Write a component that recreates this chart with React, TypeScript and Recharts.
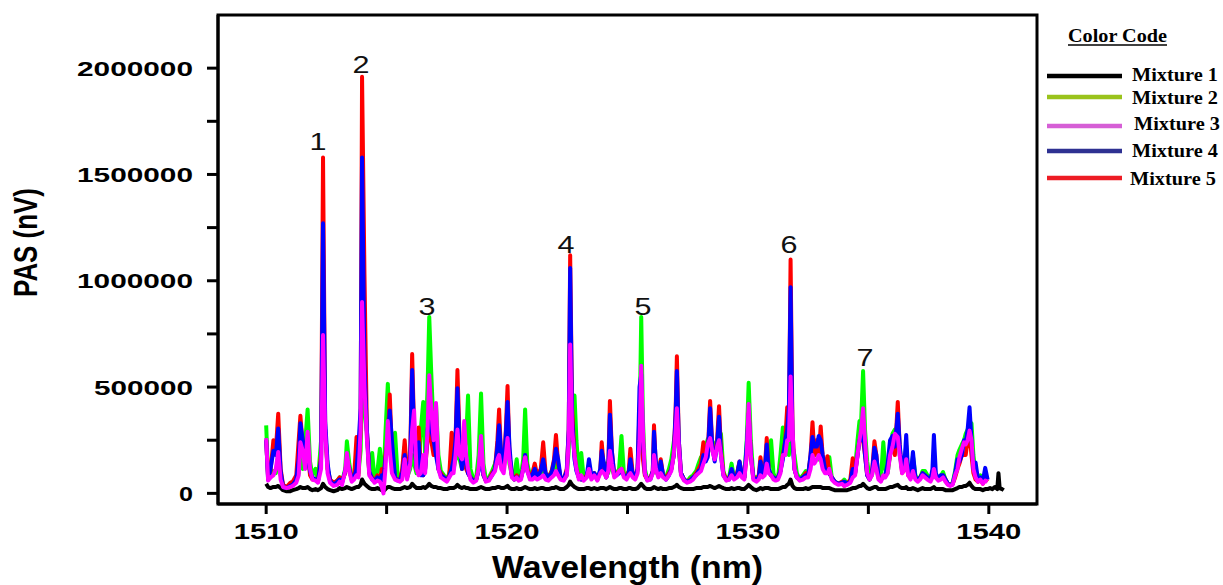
import { Line, LineChart, ReferenceArea, ReferenceDot, XAxis, YAxis } from 'recharts';

const SANS = '"Liberation Sans", Arial, sans-serif';
const SERIF = '"Liberation Serif", "Times New Roman", serif';

// one line per nm, every series array follows the same layout (values in thousands of nV)
const wavelength = [
  1510.0, 1510.08, 1510.18, 1510.3, 1510.4, 1510.5, 1510.6, 1510.7, 1510.85,
  1511.0, 1511.1, 1511.25, 1511.35, 1511.42, 1511.52, 1511.62, 1511.72, 1511.82, 1511.92,
  1512.05, 1512.15, 1512.28, 1512.36, 1512.45, 1512.55, 1512.65, 1512.8, 1512.95,
  1513.05, 1513.15, 1513.28, 1513.35, 1513.45, 1513.55, 1513.65, 1513.75, 1513.83, 1513.92, 1513.98,
  1514.08, 1514.18, 1514.28, 1514.4, 1514.5, 1514.62, 1514.72, 1514.8, 1514.87, 1514.95,
  1515.05, 1515.13, 1515.22, 1515.35, 1515.45, 1515.55, 1515.65, 1515.75, 1515.85, 1515.98,
  1516.06, 1516.14, 1516.24, 1516.33, 1516.42, 1516.52, 1516.6, 1516.7, 1516.77, 1516.85, 1516.95,
  1517.05, 1517.15, 1517.25, 1517.38, 1517.5, 1517.6, 1517.7, 1517.78, 1517.86, 1517.94,
  1518.03, 1518.13, 1518.22, 1518.3, 1518.38, 1518.48, 1518.6, 1518.72, 1518.82, 1518.92,
  1519.02, 1519.12, 1519.25, 1519.38, 1519.5, 1519.6, 1519.67, 1519.76, 1519.86, 1519.95,
  1520.02, 1520.1, 1520.2, 1520.3, 1520.4, 1520.48, 1520.58, 1520.67, 1520.75, 1520.84, 1520.95,
  1521.05, 1521.15, 1521.25, 1521.4, 1521.5, 1521.6, 1521.72, 1521.85, 1521.95,
  1522.03, 1522.12, 1522.22, 1522.35, 1522.48, 1522.56, 1522.62, 1522.7, 1522.8, 1522.88, 1522.98,
  1523.08, 1523.18, 1523.3, 1523.4, 1523.5, 1523.62, 1523.75, 1523.87, 1523.93,
  1524.02, 1524.12, 1524.2, 1524.27, 1524.35, 1524.45, 1524.55, 1524.65, 1524.75, 1524.85, 1524.96,
  1525.05, 1525.12, 1525.22, 1525.32, 1525.42, 1525.5, 1525.57, 1525.64, 1525.72, 1525.82, 1525.95,
  1526.05, 1526.1, 1526.18, 1526.28, 1526.38, 1526.48, 1526.6, 1526.72, 1526.82, 1526.92,
  1527.0, 1527.05, 1527.13, 1527.22, 1527.35, 1527.48, 1527.6, 1527.72, 1527.85, 1527.95,
  1528.05, 1528.15, 1528.25, 1528.33, 1528.43, 1528.52, 1528.62, 1528.72, 1528.8, 1528.88, 1528.98,
  1529.1, 1529.22, 1529.32, 1529.42, 1529.55, 1529.65, 1529.75, 1529.85, 1529.95,
  1530.03, 1530.12, 1530.22, 1530.35, 1530.45, 1530.52, 1530.6, 1530.7, 1530.78, 1530.86, 1530.96,
  1531.06, 1531.15, 1531.25, 1531.35, 1531.45, 1531.55, 1531.63, 1531.7, 1531.77, 1531.85, 1531.93,
  1532.03, 1532.15, 1532.28, 1532.4, 1532.5, 1532.6, 1532.68, 1532.76, 1532.86, 1532.94,
  1533.02, 1533.1, 1533.2, 1533.3, 1533.38, 1533.48, 1533.6, 1533.75, 1533.9,
  1534.0, 1534.12, 1534.25, 1534.35, 1534.45, 1534.55, 1534.63, 1534.7, 1534.78, 1534.86, 1534.95,
  1535.05, 1535.15, 1535.25, 1535.33, 1535.42, 1535.52, 1535.62, 1535.7, 1535.8, 1535.9,
  1536.0, 1536.1, 1536.22, 1536.3, 1536.4, 1536.52, 1536.57, 1536.65, 1536.75, 1536.85, 1536.95,
  1537.05, 1537.15, 1537.25, 1537.35, 1537.45, 1537.58, 1537.66, 1537.72, 1537.8, 1537.9,
  1538.0, 1538.1, 1538.2, 1538.3, 1538.4, 1538.5, 1538.6, 1538.7, 1538.78, 1538.88,
  1538.97, 1539.04, 1539.12, 1539.2, 1539.28, 1539.36, 1539.45, 1539.55, 1539.65, 1539.75, 1539.85, 1539.95,
  1540.05, 1540.15, 1540.25, 1540.35, 1540.4, 1540.45, 1540.55, 1540.62,
];

// Mixture 1 (black)
const mixture1 = [
  45, 30, 25, 30, 30, 35, 25, 15, 10,
  10, 15, 20, 25, 30, 25, 25, 30, 20, 15,
  20, 15, 25, 45, 30, 20, 15, 10, 15,
  25, 20, 25, 30, 25, 20, 25, 30, 30, 40, 65,
  45, 35, 25, 20, 20, 25, 20, 15, 10, 20,
  30, 30, 25, 20, 20, 20, 25, 30, 25, 30,
  45, 35, 25, 25, 25, 30, 25, 35, 45, 35, 30,
  30, 25, 25, 20, 20, 25, 25, 25, 30, 40,
  30, 25, 30, 25, 25, 20, 20, 20, 25, 30,
  25, 20, 20, 25, 25, 30, 30, 25, 25, 30,
  35, 25, 20, 20, 25, 20, 20, 25, 30, 25, 20,
  20, 25, 20, 25, 25, 20, 20, 25, 25,
  30, 25, 20, 20, 30, 40, 55, 40, 30, 25, 20,
  20, 20, 25, 25, 20, 25, 20, 25, 25,
  25, 20, 25, 30, 25, 20, 20, 25, 25, 20, 20,
  25, 25, 20, 20, 25, 35, 45, 35, 25, 20, 20,
  25, 30, 25, 20, 25, 20, 20, 25, 25, 30,
  35, 40, 30, 25, 20, 20, 20, 20, 25, 25,
  25, 30, 30, 30, 35, 30, 25, 30, 35, 30, 25,
  20, 20, 25, 20, 25, 25, 20, 20, 30,
  40, 30, 20, 15, 20, 25, 20, 25, 25, 25, 20,
  20, 20, 20, 25, 30, 30, 40, 45, 65, 35, 25,
  20, 20, 20, 25, 20, 25, 30, 30, 30, 30,
  30, 25, 25, 25, 25, 20, 15, 15, 15,
  15, 15, 20, 25, 25, 30, 35, 35, 45, 35, 25,
  20, 25, 30, 30, 20, 20, 20, 20, 25, 30,
  30, 35, 40, 30, 25, 25, 30, 20, 20, 25, 20,
  15, 20, 25, 20, 20, 20, 25, 30, 20, 20,
  20, 20, 15, 15, 15, 15, 20, 25, 30, 30,
  35, 35, 40, 50, 35, 25, 20, 20, 20, 15, 20, 20,
  25, 20, 30, 20, 95, 25, 20, 15,
];

// Mixture 2 (green)
const mixture2 = [
  320, 85, 75, 105, 95, 180, 85, 40, 25,
  40, 45, 75, 95, 200, 115, 240, 395, 150, 85,
  115, 60, 250, 300, 300, 115, 65, 45, 60,
  75, 55, 115, 245, 140, 75, 85, 115, 95, 200, 500,
  400, 280, 95, 190, 65, 105, 210, 95, 65, 280,
  515, 300, 150, 285, 95, 65, 105, 220, 75, 115,
  180, 140, 95, 115, 300, 430, 180, 500, 830, 575, 300,
  420, 180, 105, 85, 65, 95, 140, 115, 160, 180,
  160, 115, 180, 250, 460, 115, 65, 75, 180, 470,
  140, 65, 75, 105, 140, 180, 250, 150, 115, 220,
  300, 140, 85, 85, 160, 75, 85, 160, 395, 140, 85,
  85, 95, 75, 95, 115, 85, 75, 105, 115,
  150, 95, 75, 65, 85, 200, 350, 250, 460, 250, 85,
  190, 75, 85, 105, 75, 95, 75, 95, 115,
  105, 140, 95, 200, 115, 85, 95, 115, 270, 95, 85,
  105, 115, 85, 75, 105, 300, 830, 350, 115, 65, 75,
  95, 180, 105, 85, 115, 85, 75, 115, 160, 240,
  300, 350, 200, 95, 65, 55, 75, 85, 105, 140,
  170, 180, 220, 255, 250, 200, 230, 250, 280, 280, 105,
  65, 75, 140, 75, 95, 140, 85, 75, 250,
  520, 250, 85, 65, 85, 115, 95, 105, 160, 115, 250,
  95, 65, 75, 180, 310, 180, 250, 180, 300, 220, 180,
  95, 65, 85, 105, 95, 160, 250, 250, 180, 160,
  220, 140, 105, 140, 170, 75, 55, 45, 50,
  65, 45, 60, 85, 115, 250, 340, 340, 575, 300, 150,
  75, 85, 160, 115, 75, 65, 240, 115, 95, 180,
  280, 300, 300, 180, 115, 160, 225, 95, 75, 175, 85,
  65, 75, 105, 105, 85, 75, 95, 140, 85, 75,
  80, 100, 65, 45, 40, 50, 105, 180, 205, 230,
  250, 280, 300, 330, 330, 180, 95, 75, 85, 55, 75, 65,
  null, null, null, null, null, null, null, null,
];

// Mixture 3 (magenta)
const mixture3 = [
  260, 60, 75, 85, 115, 195, 65, 30, 25,
  30, 35, 50, 85, 240, 200, 115, 290, 115, 65,
  60, 50, 115, 745, 290, 95, 50, 35, 40,
  55, 40, 105, 190, 105, 55, 65, 85, 75, 300, 900,
  500, 260, 85, 65, 50, 60, 55, 30, 0, 115,
  340, 200, 95, 65, 60, 55, 65, 160, 65, 140,
  300, 390, 115, 85, 95, 180, 95, 300, 555, 400, 250,
  425, 115, 75, 65, 55, 75, 95, 95, 180, 300,
  180, 160, 340, 180, 115, 65, 50, 60, 115, 270,
  95, 55, 60, 85, 105, 160, 180, 115, 95, 180,
  260, 160, 75, 65, 75, 60, 65, 115, 170, 105, 65,
  65, 75, 65, 75, 85, 65, 60, 75, 85,
  105, 85, 65, 60, 85, 250, 700, 300, 180, 115, 65,
  85, 60, 75, 115, 65, 85, 60, 95, 105,
  95, 75, 105, 200, 140, 75, 85, 105, 115, 75, 65,
  85, 95, 75, 65, 95, 250, 600, 300, 95, 60, 65,
  95, 180, 115, 75, 95, 75, 65, 85, 105, 180,
  300, 400, 220, 85, 60, 50, 55, 65, 85, 95,
  105, 140, 170, 230, 260, 200, 160, 220, 250, 180, 85,
  60, 65, 85, 65, 75, 95, 75, 65, 180,
  420, 180, 65, 55, 65, 85, 75, 85, 140, 95, 85,
  65, 60, 65, 95, 180, 180, 250, 250, 550, 300, 115,
  75, 60, 65, 75, 75, 115, 180, 140, 160, 180,
  160, 115, 95, 95, 115, 65, 50, 40, 45,
  35, 40, 50, 75, 85, 180, 250, 300, 400, 250, 95,
  65, 85, 150, 115, 65, 55, 85, 75, 95, 180,
  220, 280, 265, 180, 95, 115, 160, 85, 65, 105, 65,
  55, 65, 85, 75, 65, 55, 75, 115, 75, 60,
  65, 75, 55, 40, 35, 40, 85, 115, 170, 210,
  240, 230, 250, 295, 250, 115, 75, 55, 65, 45, 60, 55,
  null, null, null, null, null, null, null, null,
];

// Mixture 4 (blue)
const mixture4 = [
  250, 65, 115, 200, 180, 305, 105, 30, 25,
  35, 40, 65, 160, 330, 250, 140, 170, 105, 75,
  65, 55, 160, 1270, 340, 140, 60, 40, 55,
  65, 50, 105, 150, 115, 65, 75, 115, 220, 400, 1580,
  600, 300, 105, 65, 60, 75, 60, 85, 60, 160,
  250, 390, 250, 75, 60, 60, 95, 180, 75, 160,
  580, 280, 115, 240, 85, 85, 115, 300, 350, 300, 250,
  180, 115, 85, 75, 60, 80, 115, 160, 250, 495,
  220, 115, 180, 160, 95, 75, 55, 65, 105, 180,
  85, 60, 65, 85, 115, 220, 320, 180, 115, 280,
  430, 220, 85, 65, 75, 65, 75, 115, 180, 105, 75,
  85, 115, 75, 105, 160, 95, 75, 95, 150,
  210, 160, 75, 65, 105, 300, 1060, 350, 160, 105, 75,
  65, 65, 75, 160, 85, 95, 65, 115, 200,
  140, 75, 115, 370, 200, 85, 85, 95, 105, 85, 75,
  95, 160, 85, 75, 115, 500, 560, 250, 95, 65, 65,
  105, 290, 140, 85, 150, 85, 65, 85, 115, 180,
  380, 575, 250, 95, 65, 55, 60, 75, 85, 105,
  115, 180, 150, 170, 400, 220, 150, 230, 360, 180, 85,
  65, 65, 115, 75, 85, 150, 85, 75, 230,
  375, 180, 75, 65, 75, 150, 95, 105, 230, 115, 85,
  75, 65, 75, 105, 160, 250, 300, 400, 970, 250, 115,
  75, 65, 75, 85, 85, 180, 265, 220, 220, 270,
  250, 180, 115, 105, 95, 75, 55, 45, 50,
  55, 45, 55, 115, 95, 180, 250, 250, 300, 180, 85,
  65, 95, 215, 180, 75, 65, 75, 85, 140, 250,
  270, 220, 375, 230, 105, 180, 275, 95, 75, 195, 75,
  65, 75, 95, 85, 75, 65, 115, 275, 95, 65,
  85, 85, 65, 45, 40, 45, 95, 160, 150, 180,
  250, 240, 300, 405, 250, 115, 145, 65, 75, 55, 120, 65,
  null, null, null, null, null, null, null, null,
];

// Mixture 5 (red)
const mixture5 = [
  250, 75, 105, 250, 200, 375, 115, 40, 30,
  50, 55, 85, 250, 365, 220, 160, 200, 85, 65,
  65, 55, 180, 1580, 300, 115, 65, 50, 60,
  75, 60, 95, 160, 115, 65, 75, 265, 85, 300, 1960,
  1030, 300, 95, 75, 60, 85, 60, 115, 65, 180,
  250, 465, 200, 75, 65, 60, 115, 250, 85, 180,
  655, 300, 115, 310, 95, 85, 115, 250, 300, 250, 180,
  250, 115, 95, 75, 65, 85, 285, 160, 250, 580,
  250, 115, 160, 115, 95, 75, 60, 65, 115, 180,
  85, 60, 65, 95, 115, 250, 395, 160, 115, 300,
  505, 180, 85, 65, 85, 65, 75, 115, 180, 115, 75,
  95, 140, 85, 115, 240, 95, 75, 105, 160,
  275, 140, 75, 65, 115, 300, 1120, 400, 180, 115, 75,
  65, 65, 85, 115, 75, 95, 65, 105, 240,
  115, 75, 115, 435, 200, 85, 95, 105, 115, 85, 75,
  105, 210, 85, 75, 115, 400, 300, 160, 85, 65, 75,
  105, 320, 115, 85, 160, 85, 75, 95, 115, 180,
  400, 645, 250, 95, 65, 55, 65, 75, 95, 115,
  140, 240, 160, 180, 435, 220, 160, 250, 410, 200, 95,
  65, 75, 105, 75, 95, 150, 85, 75, 180,
  380, 180, 75, 65, 85, 170, 95, 115, 260, 115, 85,
  75, 65, 75, 105, 180, 250, 405, 300, 1100, 300, 115,
  75, 65, 75, 95, 85, 180, 335, 180, 250, 180,
  315, 180, 115, 175, 95, 75, 55, 45, 55,
  35, 45, 65, 165, 95, 180, 250, 250, 250, 180, 85,
  65, 95, 245, 180, 75, 65, 75, 85, 115, 180,
  250, 180, 430, 220, 95, 115, 180, 85, 75, 105, 75,
  65, 75, 95, 85, 75, 65, 85, 115, 75, 65,
  75, 85, 65, 45, 40, 45, 75, 115, 140, 180,
  180, 180, 250, 280, 180, 95, 65, 55, 65, 45, 65, 55,
  null, null, null, null, null, null, null, null,
];

const xTicks = [1510, 1515, 1520, 1525, 1530, 1535, 1540];
const yTicks = [0, 250000, 500000, 750000, 1000000, 1250000, 1500000, 1750000, 2000000];

const peakNumbers = ['1', '2', '3', '4', '5', '6', '7'];
const peakLabelWl = [1512.15, 1513.94, 1516.68, 1522.45, 1525.64, 1531.7, 1534.86];
const peakLabelPas = [1657000, 2017000, 880000, 1172000, 880000, 1172000, 640000];

const legendNames = ['Mixture 1', 'Mixture 2', 'Mixture 3', 'Mixture 4', 'Mixture 5'];
const legendColors = ['#000000', '#9ac31c', '#d65fd6', '#2e3192', '#ed1c24'];

// drawing order: black at the back, magenta on top
const series = [
  { key: 'm1', values: mixture1, color: '#000000' },
  { key: 'm2', values: mixture2, color: '#00ff00' },
  { key: 'm5', values: mixture5, color: '#ff0000' },
  { key: 'm4', values: mixture4, color: '#0000ff' },
  { key: 'm3', values: mixture3, color: '#ff00ff' },
];

const data = wavelength.map((wl, i) => {
  const row: Record<string, number | null> = { wl };
  for (const s of series) {
    const v = s.values[i];
    row[s.key] = v == null ? null : v * 1000;
  }
  return row;
});

function digitsWidth(s: string) {
  return 17 * s.length - 3;
}

function YTick(props: any) {
  const { x, y, payload } = props;
  if (payload.value % 500000 !== 0) return <g />;
  const s = String(payload.value);
  return (
    <text x={x} y={y} dy={7.5} textAnchor="end" fill="#000" fontFamily={SANS} fontWeight="bold" fontSize={21}
      textLength={digitsWidth(s)} lengthAdjust="spacingAndGlyphs">
      {s}
    </text>
  );
}

function XTick(props: any) {
  const { x, y, payload } = props;
  if (payload.value % 10 !== 0) return <g />;
  const s = String(payload.value);
  return (
    <text x={x} y={y} dy={17} textAnchor="middle" fill="#000" fontFamily={SANS} fontWeight="bold" fontSize={22}
      textLength={digitsWidth(s)} lengthAdjust="spacingAndGlyphs">
      {s}
    </text>
  );
}

function XTitle(props: any) {
  const vb = props.viewBox;
  return (
    <text x={vb.x + vb.width / 2} y={vb.y + 74} textAnchor="middle" fill="#000" fontFamily={SANS} fontWeight="bold"
      fontSize={31} textLength={271} lengthAdjust="spacingAndGlyphs">
      Wavelength (nm)
    </text>
  );
}

function YTitle(props: any) {
  const vb = props.viewBox;
  const cy = vb.y + vb.height / 2 - 17;
  return (
    <text transform={`translate(${vb.x + 37},${cy}) scale(1.35,1) rotate(-90)`} textAnchor="middle" fill="#000"
      fontFamily={SANS} fontWeight="bold" fontSize={25} textLength={109} lengthAdjust="spacingAndGlyphs">
      PAS (nV)
    </text>
  );
}

function Legend() {
  const lineY = [76, 97, 126, 151, 178];
  const textX = [1132, 1132, 1134, 1132, 1130];
  const textY = [81, 104, 130, 157, 185];
  return (
    <svg width={1223} height={585} style={{ position: 'absolute', left: 0, top: 0, pointerEvents: 'none' }}>
      <text x={1068} y={42} fill="#000" fontFamily={SERIF} fontWeight="bold" fontSize={18} textLength={99}
        lengthAdjust="spacingAndGlyphs">
        Color Code
      </text>
      <line x1={1068} x2={1167} y1={45} y2={45} stroke="#000" strokeWidth={1.5} />
      {legendNames.map((name, i) => (
        <g key={name}>
          <line x1={1047} x2={1122} y1={lineY[i]} y2={lineY[i]} stroke={legendColors[i]} strokeWidth={4.5} />
          <text x={textX[i]} y={textY[i]} fill="#000" fontFamily={SERIF} fontWeight="bold" fontSize={19}
            textLength={86} lengthAdjust="spacingAndGlyphs">
            {name}
          </text>
        </g>
      ))}
    </svg>
  );
}

export default function App() {
  return (
    <div style={{ position: 'absolute', left: 0, top: 0, width: 1223, height: 585, background: '#fff' }}>
      <LineChart width={1223} height={585} data={data} margin={{ top: 15, right: 186, bottom: 0, left: 0 }}>
        <XAxis
          type="number"
          dataKey="wl"
          domain={[1508, 1542]}
          allowDataOverflow
          ticks={xTicks}
          interval={0}
          height={81}
          tickSize={10}
          tickMargin={8}
          tick={<XTick />}
          axisLine={{ stroke: '#000', strokeWidth: 3 }}
          tickLine={{ stroke: '#000', strokeWidth: 3 }}
          label={{ content: (p: any) => <XTitle {...p} /> }}
        />
        <YAxis
          type="number"
          domain={[-50000, 2250000]}
          allowDataOverflow
          ticks={yTicks}
          interval={0}
          width={218}
          tickSize={11}
          tickMargin={14}
          tick={<YTick />}
          axisLine={{ stroke: '#000', strokeWidth: 3 }}
          tickLine={{ stroke: '#000', strokeWidth: 3 }}
          label={{ content: (p: any) => <YTitle {...p} /> }}
        />
        <ReferenceArea x1={1508} x2={1542} y1={-50000} y2={2250000} fill="none" stroke="#000" strokeWidth={3}
          fillOpacity={0} />
        {series.map((s) => (
          <Line
            key={s.key}
            type="linear"
            dataKey={s.key}
            stroke={s.color}
            strokeWidth={4}
            strokeLinejoin="round"
            dot={false}
            activeDot={false}
            isAnimationActive={false}
          />
        ))}
        {peakNumbers.map((n, i) => (
          <ReferenceDot
            key={n}
            x={peakLabelWl[i]}
            y={peakLabelPas[i]}
            r={0}
            ifOverflow="visible"
            shape={(p: any) => (
              <text x={p.cx} y={p.cy} dy={8.5} textAnchor="middle" fill="#111" fontFamily={SANS} fontSize={24}
                textLength={17} lengthAdjust="spacingAndGlyphs">
                {n}
              </text>
            )}
          />
        ))}
      </LineChart>
      <Legend />
    </div>
  );
}
